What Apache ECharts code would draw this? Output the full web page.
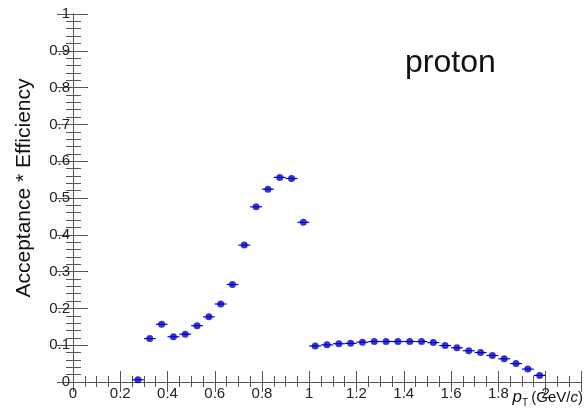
<!DOCTYPE html>
<html>
<head>
<meta charset="utf-8">
<script src="https://cdn.jsdelivr.net/npm/echarts@6/dist/echarts.min.js"></script>
<style>
html,body{margin:0;padding:0;background:#fff;}
#chart{width:584px;height:415px;}
</style>
</head>
<body>
<div id="chart"></div>
<script>
// Bin centers (pT, GeV/c)
var ptCenters = [0.275,0.325,0.375,0.425,0.475,0.525,0.575,0.625,0.675,0.725,0.775,0.825,0.875,0.925,0.975,
  1.025,1.075,1.125,1.175,1.225,1.275,1.325,1.375,1.425,1.475,1.525,1.575,1.625,1.675,1.725,1.775,1.825,1.875,1.925,1.975];
// Half bin width
var binHalfWidth = 0.025;
// Acceptance * Efficiency values
var accEff = [0.006,0.118,0.157,0.123,0.130,0.153,0.177,0.212,0.265,0.372,0.476,0.524,0.556,0.553,0.434,
  0.098,0.101,0.104,0.105,0.108,0.110,0.110,0.110,0.110,0.110,0.107,0.099,0.093,0.085,0.080,0.072,0.063,0.050,0.035,0.018];

var pointColor = '#0000c8';
var axisColor = '#555';
var fontFam = '"Liberation Sans", Arial, Helvetica, sans-serif';

var points = ptCenters.map(function(x,i){return [x, accEff[i]];});

var chart = echarts.init(document.getElementById('chart'), null, {renderer:'canvas'});

function axisCommon(extra){
  return Object.assign({
    type:'value',
    axisLine:{show:true, lineStyle:{color:axisColor, width:1}},
    splitLine:{show:false},
    minorSplitLine:{show:false}
  }, extra);
}

var option = {
  animation:false,
  backgroundColor:'#fff',
  grid:{left:73, right:1, top:14, bottom:33, containLabel:false},
  xAxis:[
    axisCommon({
      min:0, max:2.15, interval:0.2, position:'bottom',
      axisTick:{show:true, inside:true, length:11, lineStyle:{color:axisColor}},
      minorTick:{show:true, splitNumber:4, length:6, lineStyle:{color:axisColor}},
      axisLabel:{show:true, color:'#222', fontSize:15, fontFamily:fontFam, margin:4,
        formatter:function(v){ return v > 2.01 ? '' : String(Math.round(v*10)/10); }}
    }),
    axisCommon({
      min:0, max:2.15, interval:0.2, position:'top',
      axisTick:{show:true, inside:true, length:10, lineStyle:{color:axisColor}},
      minorTick:{show:true, splitNumber:4, length:5, lineStyle:{color:axisColor}},
      axisLabel:{show:false}
    })
  ],
  yAxis:[
    axisCommon({
      min:0, max:1, interval:0.1, position:'left',
      axisTick:{show:true, inside:true, length:15, lineStyle:{color:axisColor}},
      minorTick:{show:true, splitNumber:5, length:8, lineStyle:{color:axisColor}},
      axisLabel:{show:true, color:'#222', fontSize:15, fontFamily:fontFam, margin:3}
    }),
    axisCommon({
      min:0, max:1, interval:0.1, position:'right',
      axisTick:{show:true, inside:true, length:16, lineStyle:{color:axisColor}},
      minorTick:{show:true, splitNumber:5, length:7, lineStyle:{color:axisColor}},
      axisLabel:{show:false}
    })
  ],
  graphic:[
    {type:'text', x:24, y:188, rotation:Math.PI/2,
      style:{text:'Acceptance * Efficiency', fontSize:21, fill:'#111', fontFamily:fontFam,
        textAlign:'center', textVerticalAlign:'middle'}},
    {type:'text', left:405, top:47, style:{text:'proton', fontSize:32, fill:'#111', fontFamily:fontFam}},
    {type:'text', right:1, top:389, style:{
      text:'{p|p}{s|T} {n|(GeV/}{p2|c}{n|)}',
      rich:{
        p:{fontSize:17, fontStyle:'italic', fontFamily:fontFam, fill:'#111'},
        s:{fontSize:10, fontFamily:fontFam, fill:'#111', padding:[12,0,0,0]},
        n:{fontSize:15, fontFamily:fontFam, fill:'#111'},
        p2:{fontSize:15, fontStyle:'italic', fontFamily:fontFam, fill:'#111'}
      }
    }}
  ],
  series:[
    {
      type:'custom',
      xAxisIndex:0, yAxisIndex:0,
      data:points,
      renderItem:function(params, api){
        var x = api.value(0), y = api.value(1);
        var p1 = api.coord([x - binHalfWidth, y]);
        var p2 = api.coord([x + binHalfWidth, y]);
        return {type:'line', shape:{x1:p1[0], y1:p1[1], x2:p2[0], y2:p2[1]},
          style:{stroke:pointColor, lineWidth:1.2}};
      },
      z:2
    },
    {
      type:'scatter',
      xAxisIndex:0, yAxisIndex:0,
      data:points,
      symbol:'circle', symbolSize:7,
      itemStyle:{color:pointColor},
      z:3
    }
  ]
};
chart.setOption(option);
</script>
</body>
</html>
